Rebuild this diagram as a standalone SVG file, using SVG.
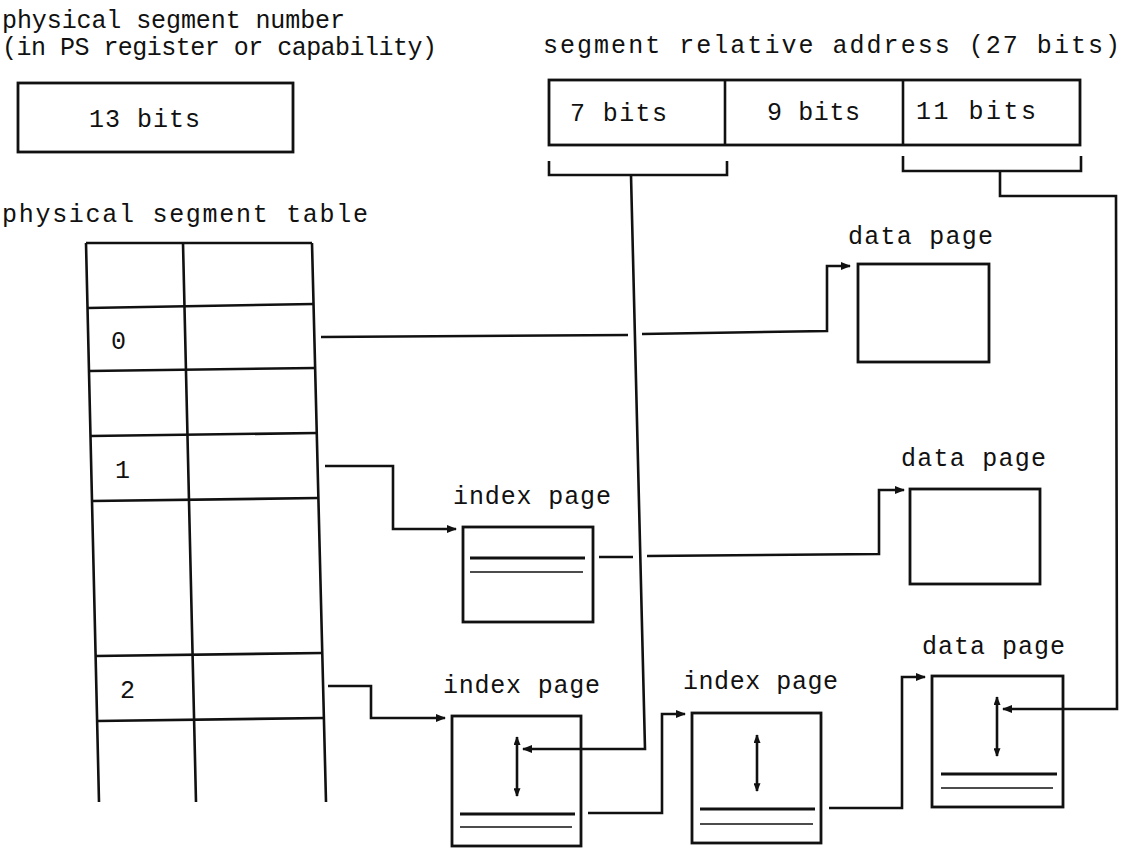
<svg xmlns="http://www.w3.org/2000/svg" width="1130" height="850" viewBox="0 0 1130 850">
  <style>
    .t { font-family: "Liberation Mono", "DejaVu Sans Mono", monospace; font-size: 25px; fill: #111; }
    .box { fill: none; stroke: #111; stroke-width: 2.8; }
    .ln { fill: none; stroke: #111; stroke-width: 2.6; stroke-linejoin: miter; }
    .thick { stroke: #111; stroke-width: 3.2; }
    .thin { stroke: #111; stroke-width: 1.7; }
    .dbl { stroke: #111; stroke-width: 2.6; }
  </style>
  <defs>
    <marker id="ah" viewBox="0 0 10 8" refX="9" refY="4" markerWidth="10" markerHeight="8" markerUnits="userSpaceOnUse" orient="auto">
      <path d="M0,0 L10,4 L0,8 z" fill="#111"/>
    </marker>
    <marker id="ahs" viewBox="0 0 10 8" refX="9" refY="4" markerWidth="9" markerHeight="7" markerUnits="userSpaceOnUse" orient="auto-start-reverse">
      <path d="M0,0 L10,4 L0,8 z" fill="#111"/>
    </marker>
  </defs>
  <rect width="1130" height="850" fill="#fff"/>

  <!-- physical segment number register -->
  <g id="ps-number">
    <text class="t" x="2" y="28" textLength="343" lengthAdjust="spacing">physical segment number</text>
    <text class="t" x="2" y="55" textLength="435" lengthAdjust="spacing">(in PS register or capability)</text>
    <rect class="box" x="18" y="83" width="275" height="69"/>
    <text class="t" x="89" y="127" textLength="111" lengthAdjust="spacing">13 bits</text>
  </g>

  <!-- segment relative address split into fields -->
  <g id="seg-address">
    <text class="t" x="543" y="53" textLength="577" lengthAdjust="spacing">segment relative address (27 bits)</text>
    <rect class="box" x="549" y="80" width="531" height="65"/>
    <line class="ln" x1="725" y1="80" x2="725" y2="145"/>
    <line class="ln" x1="903" y1="80" x2="903" y2="145"/>
    <text class="t" x="570" y="121" textLength="97" lengthAdjust="spacing">7 bits</text>
    <text class="t" x="767" y="120" textLength="93" lengthAdjust="spacing">9 bits</text>
    <text class="t" x="916" y="119" textLength="120" lengthAdjust="spacing">11 bits</text>
    <path class="ln" d="M549,161 L549,175 L727,175 L727,161"/>
    <path class="ln" d="M903,156 L903,171 L1081,171 L1081,156"/>
  </g>

  <!-- physical segment table -->
  <g id="ps-table">
    <text class="t" x="2" y="222" textLength="366" lengthAdjust="spacing">physical segment table</text>
    <path class="ln" d="M86,243 L99,802 M183,243 L196,802 M312,243 L326,802"/>
    <path class="ln" d="M86,243 L312,243 M87.5,308 L313.6,304 M89,371 L315.2,368 M90.5,436 L316.8,433 M92,501 L318.4,498 M95.6,656 L322.3,653 M97.1,721 L323.9,718"/>
    <text class="t" x="111" y="349">0</text>
    <text class="t" x="115" y="478">1</text>
    <text class="t" x="120" y="698">2</text>
  </g>

  <!-- data page reached from entry 0 -->
  <g id="data-page-0">
    <text class="t" x="848" y="244" textLength="145" lengthAdjust="spacing">data page</text>
    <rect class="box" x="858" y="264" width="131" height="98"/>
  </g>

  <!-- index page of segment 1 -->
  <g id="index-page-1">
    <text class="t" x="453" y="504" textLength="158" lengthAdjust="spacing">index page</text>
    <rect class="box" x="463" y="527" width="130" height="95"/>
    <line class="thick" x1="470" y1="558" x2="585" y2="558"/>
    <line class="thin" x1="470" y1="572" x2="583" y2="572"/>
  </g>

  <!-- data page of segment 1 -->
  <g id="data-page-1">
    <text class="t" x="901" y="466" textLength="145" lengthAdjust="spacing">data page</text>
    <rect class="box" x="910" y="489" width="130" height="95"/>
  </g>

  <!-- first-level index page of segment 2 -->
  <g id="index-page-2a">
    <text class="t" x="443" y="693" textLength="157" lengthAdjust="spacing">index page</text>
    <rect class="box" x="452" y="716" width="129" height="130"/>
    <line class="dbl" x1="517" y1="737" x2="517" y2="796" marker-start="url(#ahs)" marker-end="url(#ahs)"/>
    <line class="thick" x1="460" y1="814" x2="575" y2="814"/>
    <line class="thin" x1="460" y1="827" x2="572" y2="827"/>
  </g>

  <!-- second-level index page of segment 2 -->
  <g id="index-page-2b">
    <text class="t" x="683" y="689" textLength="155" lengthAdjust="spacing">index page</text>
    <rect class="box" x="692" y="713" width="129" height="130"/>
    <line class="dbl" x1="757" y1="735" x2="757" y2="791" marker-start="url(#ahs)" marker-end="url(#ahs)"/>
    <line class="thick" x1="700" y1="809" x2="815" y2="809"/>
    <line class="thin" x1="700" y1="824" x2="813" y2="824"/>
  </g>

  <!-- data page of segment 2 -->
  <g id="data-page-2">
    <text class="t" x="922" y="654" textLength="143" lengthAdjust="spacing">data page</text>
    <rect class="box" x="932" y="676" width="131" height="131"/>
    <line class="dbl" x1="997" y1="697" x2="997" y2="756" marker-start="url(#ahs)" marker-end="url(#ahs)"/>
    <line class="thick" x1="941" y1="774" x2="1057" y2="774"/>
    <line class="thin" x1="941" y1="788" x2="1053" y2="788"/>
  </g>

  <!-- connectors -->
  <g id="connectors">
    <path class="ln" d="M321,337 L628,335"/>
    <path class="ln" d="M642,334 L827,331 L827,266 L850,266" marker-end="url(#ah)"/>
    <path class="ln" d="M325,466 L393,466 L393,529 L456,529" marker-end="url(#ah)"/>
    <path class="ln" d="M328,686 L371,686 L371,718 L445,718" marker-end="url(#ah)"/>
    <path class="ln" d="M599,557 L633,557"/>
    <path class="ln" d="M647,556 L879,554 L879,490 L904,490" marker-end="url(#ah)"/>
    <path class="ln" d="M631,175 L645,749 L523,749" marker-end="url(#ah)"/>
    <path class="ln" d="M1000,171 L1000,196 L1116,196 L1117,709 L1003,709" marker-end="url(#ah)"/>
    <path class="ln" d="M588,813 L662,813 L662,714 L685,714" marker-end="url(#ah)"/>
    <path class="ln" d="M829,808 L902,808 L902,677 L925,677" marker-end="url(#ah)"/>
  </g>
</svg>
